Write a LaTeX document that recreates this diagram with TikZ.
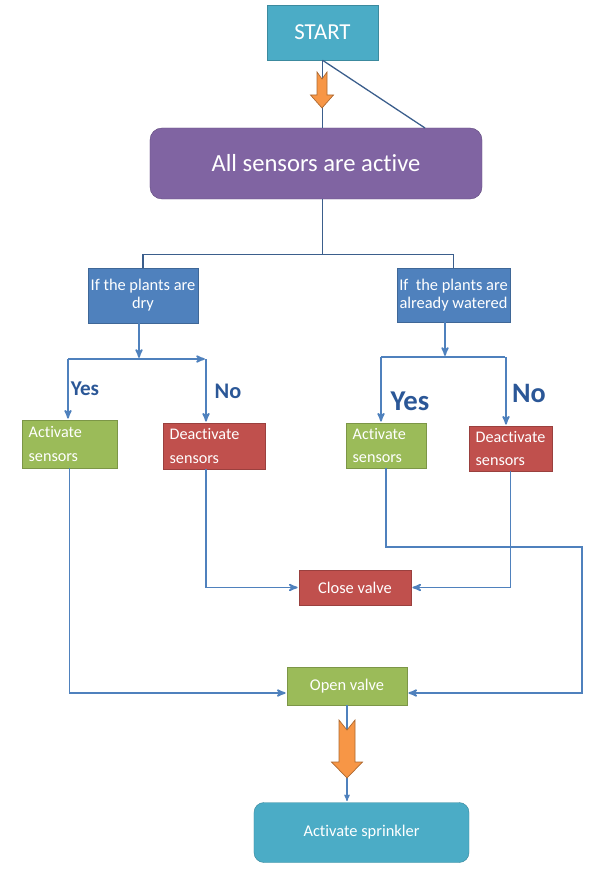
\documentclass[tikz,border=0pt]{standalone}
\usepackage{fontspec}
\setmainfont[Ligatures=NoCommon]{Carlito}
\usetikzlibrary{arrows,positioning}
\definecolor{tuerkis}{HTML}{4BACC6}
\definecolor{lila}{HTML}{8064A2}
\definecolor{blau}{HTML}{4F81BD}
\definecolor{gruen}{HTML}{9BBB59}
\definecolor{rot}{HTML}{C0504D}
\definecolor{pfeilorange}{HTML}{F79646}
\definecolor{linienblau}{HTML}{4F81BD}
\definecolor{dunkelblau}{HTML}{3B5E8C}
\definecolor{janeinblau}{HTML}{2B5797}
\tikzset{
    %Define standard arrow tip
    >=stealth',
    %Define style for boxes
    rechteck/.style={
           rectangle,
           draw=#1!80!black, fill=#1,
           text=white,
           inner sep=0pt,
           align=center,
           font=\fontsize{14}{15.5}\selectfont},
    % Define style for small boxes with left text
    kasten/.style={
           rechteck=#1,
           align=left,
           inner xsep=0.2cm,
           font=\fontsize{13.8}{20}\selectfont},
    % Define arrow style
    pil/.style={
	   ->,
	   draw=linienblau,
	   shorten >=1pt,
           line width=1.5pt},
    % Define style for thin lines at the top
    linie/.style={draw=dunkelblau, line width=1.1pt},
    % Define style for Yes / No
    janein/.style={text=janeinblau, inner sep=0pt},
    % Define style for the orange block arrows
    blockpfeil/.style={fill=pfeilorange, draw=pfeilorange!70!black, line width=0.6pt}
}

\begin{document}
\begin{tikzpicture}[x=0.03cm,y=-0.03cm]
  \useasboundingbox (0,0) rectangle (602,877);
  % boxes
  \node[rechteck=tuerkis, minimum width=3.33cm, minimum height=1.65cm,
        font=\fontsize{19.5}{22}\selectfont] (start) at (322.5,32.5) {START};
  \node[rechteck=lila, rounded corners=0.36cm, minimum width=9.96cm, minimum height=2.13cm,
        font=\fontsize{21}{24}\selectfont] (aktiv) at (316,163.5) {All sensors are active};
  \node[rechteck=blau, minimum width=3.3cm, minimum height=1.65cm] (trocken) at (143,295.5) {If the plants are\\dry};
  \node[rechteck=blau, minimum width=3.39cm, minimum height=1.62cm] (bewaessert) at (453.5,295) {If\ \ the plants are\\already watered};
  \node[kasten=gruen, text width=2.45cm, minimum height=1.44cm] (ja1) at (69.5,444) {Activate\\sensors};
  \node[kasten=rot, text width=2.66cm, minimum height=1.38cm] (nein1) at (214,446) {Deactivate\\sensors};
  \node[kasten=gruen, text width=2.0cm, minimum height=1.35cm] (ja2) at (386,445.5) {Activate\\sensors};
  \node[kasten=rot, text width=2.09cm, minimum height=1.35cm] (nein2) at (510.5,448.5) {Deactivate\\sensors};
  \node[rechteck=rot, minimum width=3.36cm, minimum height=1.05cm] (zu) at (355,587.5) {Close valve};
  \node[rechteck=gruen, minimum width=3.6cm, minimum height=1.14cm] (offen) at (347,686) {Open valve};
  \node[rechteck=tuerkis, rounded corners=0.3cm, minimum width=6.45cm, minimum height=1.8cm] (sprenger) at (361.5,832.5) {Activate sprinkler};
  % Yes / No
  \node[janein, font=\bfseries\fontsize{18}{20}\selectfont] (ja1txt) at (85,389) {Yes};
  \node[janein, font=\bfseries\fontsize{19}{20}\selectfont] (nein1txt) at (228,391) {No};
  \node[janein, font=\bfseries\fontsize{24.5}{26}\selectfont] (ja2txt) at (410,401) {Yes};
  \node[janein, font=\bfseries\fontsize{24}{26}\selectfont] (nein2txt) at (529,393) {No};
  % coordinates
  \coordinate (diag) at (425,128);
  \coordinate (g1) at (139,359);
  \coordinate (g1l) at (68,359);
  \coordinate (g1r) at (206,359);
  \coordinate (g2) at (445,357);
  \coordinate (g2l) at (381,357);
  \coordinate (g2r) at (506,357);
  \coordinate (rechts) at (582,547);
  \coordinate (u) at (0,693);
  % top lines
  \draw[linie] (start.south) -- (start.south |- aktiv.north);
  \draw[linie] (start.south) -- (diag);
  \draw[linie] (start.south |- aktiv.south) -- ++(0,55) -| (trocken.north);
  \draw[linie] (start.south |- aktiv.south) -- ++(0,55) -| (bewaessert.north);
  % left branch
  \draw[pil] (trocken.south -| g1) -- (g1);
  \draw[pil] (g1l) -- (g1r);
  \draw[pil] (g1l) -- (g1l |- ja1.north);
  \draw[pil] (g1r) -- (g1r |- nein1.north);
  % right branch
  \draw[pil] (bewaessert.south -| g2) -- (g2);
  \draw[pil, -] (g2l) -- (g2r);
  \draw[pil] (g2l) -- (g2l |- ja2.north);
  \draw[pil] (g2r) -- (g2r |- nein2.north);
  % to the valves
  \draw[pil] (g1r |- nein1.south) |- (zu.west);
  \draw[pil] (nein2.south) |- (zu.east);
  \draw[pil] (ja1.south) |- (offen.west |- u);
  \draw[pil] (ja2.south) |- (rechts) |- (offen.east |- u);
  \draw[pil, line width=1pt] (offen.south) -- (offen.south |- sprenger.north);
  % orange block arrows
  \path[blockpfeil] (317,72) -- (322,79) -- (327,72) -- (327,95) -- (333.5,95) -- (322,108)
        -- (310.5,95) -- (317,95) -- cycle;
  \path[blockpfeil] (339,720) -- (347,730) -- (355,720) -- (355,762) -- (362.5,762) -- (347,778)
        -- (331.5,762) -- (339,762) -- cycle;
\end{tikzpicture}
\end{document}
